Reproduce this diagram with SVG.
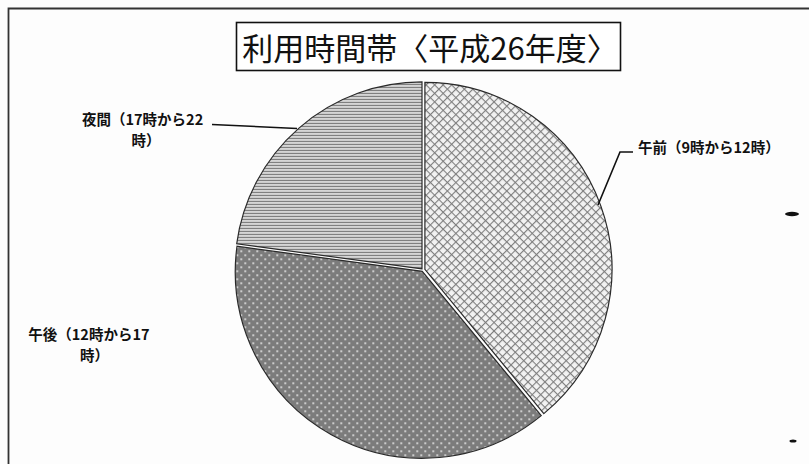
<svg xmlns="http://www.w3.org/2000/svg" width="809" height="464" viewBox="0 0 809 464">
  <style>
    .lbl { font-family: "Noto Sans CJK JP", "Noto Sans", sans-serif; font-size: 14.5px; font-weight: 700; fill: #111; }
    .title { font-family: "Noto Sans CJK JP", "Noto Sans", sans-serif; font-size: 31px; fill: #111; }
    .slice { stroke: #2a2a2a; stroke-width: 1.2; }
    .leader { fill: none; stroke: #111; stroke-width: 1.6; }
  </style>
  <defs>
    <pattern id="pCross" width="6" height="6" patternUnits="userSpaceOnUse" patternTransform="rotate(45)">
      <rect width="6" height="6" fill="#f2f2f2"/>
      <line x1="0" y1="0" x2="6" y2="0" stroke="#7e7e7e" stroke-width="2.2"/>
      <line x1="0" y1="0" x2="0" y2="6" stroke="#7e7e7e" stroke-width="2.2"/>
    </pattern>
    <pattern id="pDots" width="8" height="8" patternUnits="userSpaceOnUse">
      <rect width="8" height="8" fill="#7c7c7c"/>
      <circle cx="2" cy="2" r="0.9" fill="#f2f2f2"/>
      <circle cx="6" cy="6" r="0.9" fill="#f2f2f2"/>
    </pattern>
    <pattern id="pHoriz" width="6" height="3" patternUnits="userSpaceOnUse">
      <rect width="6" height="3" fill="#f4f4f4"/>
      <line x1="0" y1="1.5" x2="6" y2="1.5" stroke="#777" stroke-width="1.5"/>
    </pattern>
  </defs>
  <rect width="809" height="464" fill="#fdfdfd"/>
  <path d="M8.5,464 V8.5 H809" fill="none" stroke="#333" stroke-width="1.8"/>

  <g id="title">
    <rect x="236.5" y="22.5" width="384" height="48" fill="#fff" stroke="#111" stroke-width="1.6"/>
    <text class="title" x="430" y="59.5" text-anchor="middle">利用時間帯〈平成26年度〉</text>
  </g>

  <g id="slice-gozen" transform="translate(1.9,-0.7)">
    <path class="slice" fill="url(#pCross)" d="M423,270 L423,83 A187,187 0 0 1 541.95,414.29 Z"/>
  </g>
  <g id="slice-gogo" transform="translate(-0.7,1.3)">
    <path class="slice" fill="url(#pDots)" d="M423,270 L541.95,414.29 A187,187 0 0 1 237.69,244.94 Z"/>
  </g>
  <g id="slice-yakan" transform="translate(-1,-1.1)">
    <path class="slice" fill="url(#pHoriz)" d="M423,270 L237.69,244.94 A187,187 0 0 1 423,83 Z"/>
  </g>

  <g id="connectors">
    <polyline class="leader" points="212,124.5 297,128.5"/>
    <polyline class="leader" points="633,152 620,152 598,205"/>
  </g>

  <g id="label-gozen">
    <text class="lbl" x="638" y="153">午前（9時から12時）</text>
  </g>
  <g id="label-yakan">
    <text class="lbl" x="82" y="124.5">夜間（17時から22</text>
    <text class="lbl" x="131.5" y="146">時）</text>
  </g>
  <g id="label-gogo">
    <text class="lbl" x="28.3" y="339.5">午後（12時から17</text>
    <text class="lbl" x="80" y="361">時）</text>
  </g>

  <ellipse cx="792" cy="214" rx="7" ry="2.2" fill="#111"/>
  <ellipse cx="793" cy="441" rx="3.5" ry="1.5" fill="#111"/>
</svg>
